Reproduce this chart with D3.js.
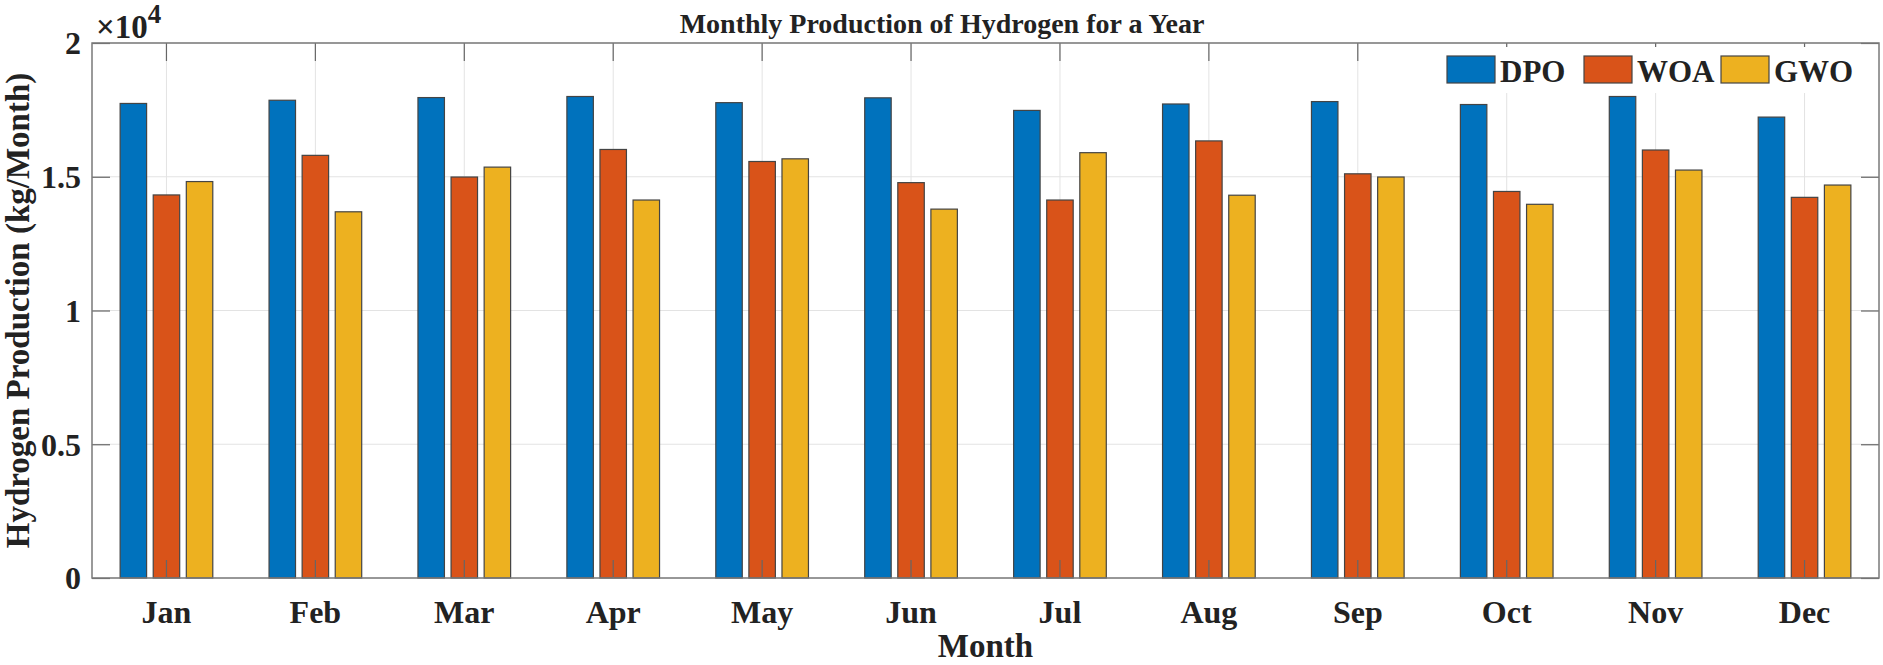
<!DOCTYPE html>
<html>
<head>
<meta charset="utf-8">
<script src="https://cdn.jsdelivr.net/npm/d3@7"></script>
<style>
  body { margin: 0; background: #fff; }
  text { font-family: "Liberation Serif", "Times New Roman", serif; font-weight: bold; fill: #222; }
</style>
</head>
<body>
<div id="chart"></div>
<script>
// values (kg/Month)
const months = ['Jan', 'Feb', 'Mar', 'Apr', 'May', 'Jun', 'Jul', 'Aug', 'Sep', 'Oct', 'Nov', 'Dec'];
const seriesNames = ['DPO', 'WOA', 'GWO'];
const dpo = [17740, 17860, 17960, 18000, 17770, 17950, 17480, 17720, 17810, 17700, 18000, 17230];
const woa = [14320, 15800, 14990, 16020, 15570, 14780, 14130, 16340, 15110, 14450, 16000, 14230];
const gwo = [14820, 13690, 15360, 14130, 15670, 13790, 15900, 14310, 14990, 13970, 15250, 14690];
const yTicks = [0, 5000, 10000, 15000, 20000];
const yTickLabels = ['0', '0.5', '1', '1.5', '2'];
const colors = ['#0072BD', '#D95319', '#EDB120'];

const dimensions = {
  width: 1883,
  height: 665,
  margin: { top: 43, bottom: 87, left: 92, right: 4 }
};

const svg = d3.select('#chart').append('svg')
  .attr('width', dimensions.width)
  .attr('height', dimensions.height);

const x0 = dimensions.margin.left;
const x1 = dimensions.width - dimensions.margin.right;
const y0 = dimensions.height - dimensions.margin.bottom;
const y1 = dimensions.margin.top;

const xScale = d3.scaleBand().domain(months).range([x0, x1]).padding(0);
const bw = xScale.bandwidth();
// MATLAB grouped bars: group width 2/3 of a slot, each bar 0.8 of its step
const xSub = d3.scaleBand().domain(seriesNames)
  .range([bw * (0.5 - 1 / 3), bw * (0.5 + 1 / 3)])
  .paddingInner(0.2).paddingOuter(0.1);
const yScale = d3.scaleLinear().domain([0, 20000]).range([y0, y1]);

const seriesData = [dpo, woa, gwo];
const rows = [];
seriesData.forEach((vals, si) => {
  vals.forEach((v, mi) => rows.push({ month: months[mi], series: seriesNames[si], color: colors[si], value: v }));
});

// grid
const grid = svg.append('g');
grid.selectAll('.gx').data(months).enter().append('line')
  .attr('x1', d => xScale(d) + bw / 2).attr('x2', d => xScale(d) + bw / 2)
  .attr('y1', y0).attr('y2', y1)
  .attr('stroke', '#e3e3e3').attr('stroke-width', 1);
grid.selectAll('.gy').data(yTicks).enter().append('line')
  .attr('x1', x0).attr('x2', x1)
  .attr('y1', d => yScale(d)).attr('y2', d => yScale(d))
  .attr('stroke', '#e3e3e3').attr('stroke-width', 1);

// bars
svg.append('g').selectAll('.bar').data(rows).enter().append('rect')
  .attr('class', 'bar')
  .attr('x', d => xScale(d.month) + xSub(d.series))
  .attr('width', xSub.bandwidth())
  .attr('y', d => yScale(d.value))
  .attr('height', d => y0 - yScale(d.value))
  .attr('fill', d => d.color)
  .attr('stroke', '#444')
  .attr('stroke-width', 1.2);

// axes: box with inward ticks on all four sides
const tickLen = 18;
const axisColor = '#7a7a7a';
const xAxisB = d3.axisBottom(xScale).tickSizeInner(-tickLen).tickSizeOuter(0).tickPadding(22);
const gxb = svg.append('g').attr('transform', `translate(0,${y0})`).call(xAxisB);
gxb.selectAll('text').attr('font-size', '32px').attr('dy', '0.71em').style('fill', '#222')
  .attr('font-family', '"Liberation Serif", serif').attr('font-weight', 'bold');
const gxt = svg.append('g').attr('transform', `translate(0,${y1})`)
  .call(d3.axisTop(xScale).tickSizeInner(-tickLen).tickSizeOuter(0).tickFormat(''));

const yAxisL = d3.axisLeft(yScale).tickValues(yTicks)
  .tickFormat((d, i) => yTickLabels[i]).tickSizeInner(-tickLen).tickSizeOuter(0).tickPadding(11);
const gyl = svg.append('g').attr('transform', `translate(${x0},0)`).call(yAxisL);
gyl.selectAll('text').attr('font-size', '32px').attr('dy', '0.34em').style('fill', '#222')
  .attr('font-family', '"Liberation Serif", serif').attr('font-weight', 'bold');
const gyr = svg.append('g').attr('transform', `translate(${x1},0)`)
  .call(d3.axisRight(yScale).tickValues(yTicks).tickSizeInner(-tickLen).tickSizeOuter(0).tickFormat(''));

[gxb, gxt, gyl, gyr].forEach(g => {
  g.select('.domain').remove();
  g.selectAll('.tick line').attr('stroke', '#666').attr('stroke-width', 1.2);
});
svg.append('rect')
  .attr('x', x0).attr('y', y1).attr('width', x1 - x0).attr('height', y0 - y1)
  .attr('fill', 'none').attr('stroke', axisColor).attr('stroke-width', 1.5);

// exponent label
const expo = svg.append('text').attr('x', 96).attr('y', 38).attr('font-size', '33px');
expo.append('tspan').text('×10');
expo.append('tspan').text('4').attr('font-size', '27px').attr('dy', -15);

// title and axis labels
svg.append('text')
  .attr('x', 942).attr('y', 33)
  .attr('text-anchor', 'middle').attr('font-size', '28px')
  .text('Monthly Production of Hydrogen for a Year');

svg.append('text')
  .attr('x', (x0 + x1) / 2).attr('y', 657)
  .attr('text-anchor', 'middle').attr('font-size', '33px')
  .text('Month');

svg.append('text')
  .attr('transform', `translate(29,${(y0 + y1) / 2}) rotate(-90)`)
  .attr('text-anchor', 'middle').attr('font-size', '33px')
  .text('Hydrogen Production (kg/Month)');

// legend
const legend = svg.append('g');
legend.append('rect')
  .attr('x', 1438).attr('y', 47).attr('width', 438).attr('height', 46)
  .attr('fill', '#fff');
const legendItem = legend.selectAll('.legendItem').data(seriesNames).enter().append('g')
  .attr('class', 'legendItem')
  .attr('transform', (d, i) => `translate(${1447 + i * 137}, 56)`);
legendItem.append('rect')
  .attr('width', 48).attr('height', 27)
  .attr('fill', (d, i) => colors[i])
  .attr('stroke', '#444').attr('stroke-width', 1.2);
legendItem.append('text')
  .attr('x', 53).attr('y', 26)
  .attr('font-size', '31px')
  .text(d => d);
</script>
</body>
</html>
